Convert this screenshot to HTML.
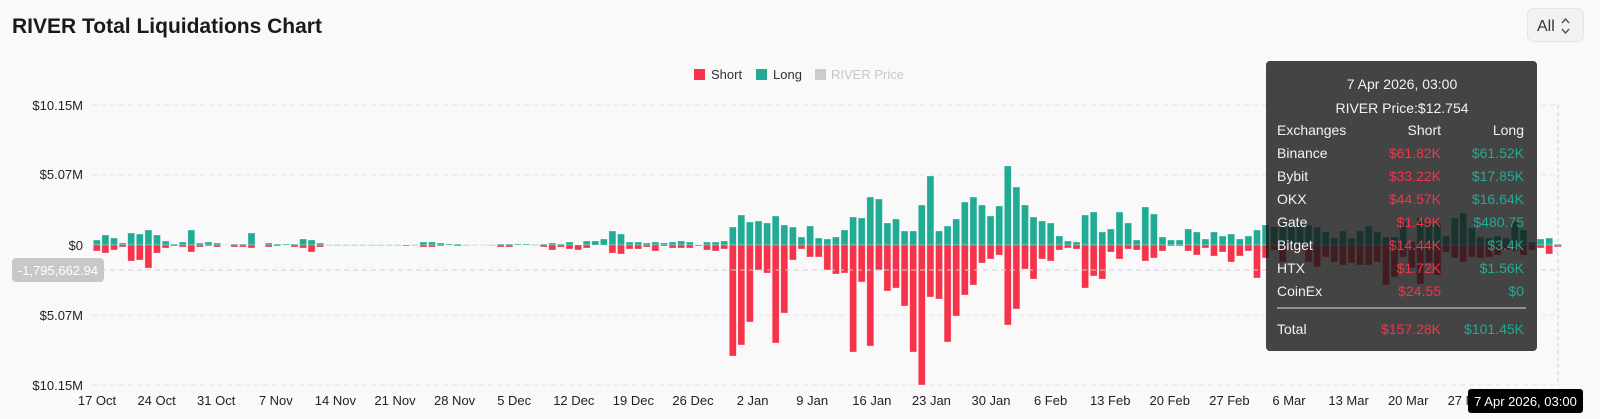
<!DOCTYPE html>
<html><head><meta charset="utf-8"><style>
html,body{margin:0;padding:0;width:1600px;height:419px;overflow:hidden;background:#f9f9f9;font-family:"Liberation Sans",sans-serif}
</style></head><body>
<svg id="s" width="1600" height="419" xmlns="http://www.w3.org/2000/svg" style="position:absolute;left:0;top:0">
<text x="12" y="33" font-size="21" font-weight="bold" fill="#1a1a1a">RIVER Total Liquidations Chart</text>
<rect x="1527.5" y="8.5" width="56" height="33" rx="6" fill="#f0f2f4" stroke="#e2e5e9"/>
<text x="1537" y="31" font-size="16" fill="#333">All</text>
<path d="M1562 23 l3.5 -4 l3.5 4 M1562 29 l3.5 4 l3.5 -4" fill="none" stroke="#555" stroke-width="1.4"/>
<rect x="694" y="69" width="11" height="11" fill="#f5334a"/><text x="711" y="79" font-size="13" fill="#333">Short</text>
<rect x="756" y="69" width="11" height="11" fill="#22ab94"/><text x="773" y="79" font-size="13" fill="#333">Long</text>
<rect x="815" y="69" width="11" height="11" fill="#cccccc"/><text x="831" y="79" font-size="13" fill="#c8c8c8">RIVER Price</text>
<g stroke="#e6e6e6" stroke-dasharray="5 4">
<line x1="92" x2="1560" y1="105" y2="105"/><line x1="92" x2="1560" y1="175" y2="175"/>
<line x1="92" x2="1560" y1="315" y2="315"/><line x1="92" x2="1560" y1="385" y2="385"/>
</g>
<g font-size="13" fill="#222" text-anchor="end">
<text x="83" y="110">$10.15M</text><text x="83" y="179">$5.07M</text><text x="83" y="250">$0</text>
<text x="83" y="320">$5.07M</text><text x="83" y="390">$10.15M</text>
</g>
<g id="bars"></g>
<line x1="92" x2="1560" y1="270" y2="270" stroke="#cfcfcf" stroke-dasharray="5 4"/>
<line x1="1558" x2="1558" y1="105" y2="385" stroke="#cfcfcf" stroke-dasharray="4 3"/>
<rect x="12" y="258" width="92" height="24" rx="4" fill="#c8c8c8"/>
<text x="58" y="275" font-size="13" fill="#fff" text-anchor="middle">-1,795,662.94</text>
<g id="xl" font-size="13" fill="#222" text-anchor="middle"></g>
<rect x="1468" y="389" width="115" height="24" rx="3" fill="#000"/>
<text x="1525.5" y="406" font-size="13" fill="#fff" text-anchor="middle">7 Apr 2026, 03:00</text>
<rect x="1266" y="61" width="271" height="290" rx="4" fill="rgba(22,22,22,0.8)"/>
<g font-size="14" fill="#f2f2f2">
<text x="1402" y="89" text-anchor="middle">7 Apr 2026, 03:00</text>
<text x="1402" y="113" text-anchor="middle">RIVER Price:$12.754</text>
<text x="1277" y="135">Exchanges</text><text x="1441" y="135" text-anchor="end">Short</text><text x="1524" y="135" text-anchor="end">Long</text>
</g>
<g id="tt" font-size="14"></g>
<line x1="1277" x2="1526" y1="308" y2="308" stroke="#ddd" stroke-width="1"/>
<text x="1277" y="334" font-size="14" fill="#f2f2f2">Total</text>
<text x="1441" y="334" font-size="14" fill="#f5334a" text-anchor="end">$157.28K</text>
<text x="1524" y="334" font-size="14" fill="#22ab94" text-anchor="end">$101.45K</text>
</svg>
<script>
var L=[5,10,7,2,12,11,15,10,4,1,3,15,2,3,2,0.3,1,1,12, 0,2,1,1,1,6,5,2,0.5,0.5,0.5,0.5,0.5,0.5,0.5,0.5,0.5,0,0.5,3,3,2,1,1,0.5,0.3,0.3,
0.5,1,1,1,1,0.5,1,2,1,3,0,4,4,6,14,11,3,3,2,3,2,3,4,3,0,
3,3,4,18,30,23,24,22,29,20,18,8,19,7,6,8,15,28,27,48,46,22,26,14,14,40,69,14,19,26,43,48,40,29,39,79,58,40,28,24,
22,9,4,3,30,33,13,16,33,22,5,38,31,8,5,5,16,13,6,13,9,
11,6,9,15,20,18,22,19,22,20,18,13,7,14,7,14,19,13,8,8,23,3,27,22,22,9,27,32,17,8,7,9,7,23,15,3,6,7,1];
var S=[6,8,5,2,16,15,23,8,3,1,2,7,2,1,2,0,2,2,3, 0,2,1,0,2,3,7,2,0.5,0.5,0.5,0.5,0.5,0.5,0.5,0.5,0.5,1,0.5,2,2,1,0,1,0.5,0.3,0.3,
0.5,2,2,0,0,0.5,2,5,2,4,5,3,0,0,8,9,4,4,2,6,1,3,3,3,1,
5,6,4,111,100,77,25,28,98,68,15,4,12,12,25,29,28,107,37,101,25,46,43,61,107,140,52,54,97,71,50,40,18,14,10,80,64,24,34,14,
16,5,3,4,43,31,34,7,14,4,5,16,13,6,1,1,6,10,3,11,7,
17,11,6,33,13,5,17,5,3,17,22,12,17,20,18,20,20,17,40,32,12,23,39,18,30,7,13,17,12,13,12,10,5,6,10,5,3,9,2];
var h='',p=8.594;
for(var i=0;i<L.length;i++){var x=(93.3+i*p).toFixed(1);
if(L[i]>0)h+='<rect x="'+x+'" y="'+(245-L[i])+'" width="7" height="'+L[i]+'" fill="#22ab94" stroke="rgba(255,255,255,0.5)" stroke-width="0.6"/>';
if(S[i]>0)h+='<rect x="'+x+'" y="245" width="7" height="'+S[i]+'" fill="#f5334a" stroke="rgba(255,255,255,0.5)" stroke-width="0.6"/>';}
document.getElementById('bars').innerHTML=h;
var d=['17 Oct','24 Oct','31 Oct','7 Nov','14 Nov','21 Nov','28 Nov','5 Dec','12 Dec','19 Dec','26 Dec','2 Jan','9 Jan','16 Jan','23 Jan','30 Jan','6 Feb','13 Feb','20 Feb','27 Feb','6 Mar','13 Mar','20 Mar','27 Mar'];
var t='';for(var k=0;k<d.length;k++)t+='<text x="'+(97+k*59.6).toFixed(1)+'" y="405">'+d[k]+'</text>';
document.getElementById('xl').innerHTML=t;
var r=[['Binance','$61.82K','$61.52K'],['Bybit','$33.22K','$17.85K'],['OKX','$44.57K','$16.64K'],['Gate','$1.49K','$480.75'],['Bitget','$14.44K','$3.4K'],['HTX','$1.72K','$1.56K'],['CoinEx','$24.55','$0']];
var q='';for(var j=0;j<r.length;j++){var y=158+j*23;
q+='<text x="1277" y="'+y+'" fill="#f2f2f2">'+r[j][0]+'</text><text x="1441" y="'+y+'" fill="#f5334a" text-anchor="end">'+r[j][1]+'</text><text x="1524" y="'+y+'" fill="#22ab94" text-anchor="end">'+r[j][2]+'</text>';}
document.getElementById('tt').innerHTML=q;
</script>
</body></html>
